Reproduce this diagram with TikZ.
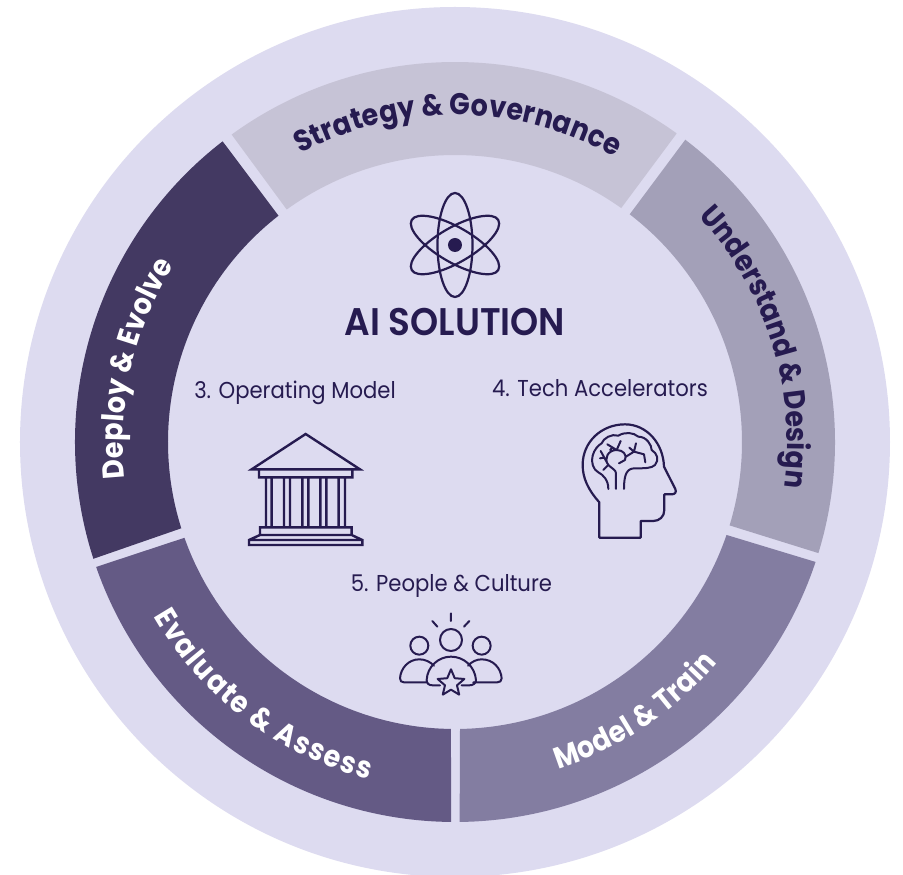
\documentclass[tikz,border=0pt]{standalone}
\usepackage{fontspec}
\setmainfont{Poppins}
\newfontfamily\segf[FakeStretch=0.9]{Poppins Bold}
\newfontfamily\labf[FakeStretch=0.92]{Poppins}
\newfontfamily\titf[FakeStretch=0.93]{Poppins SemiBold}
\definecolor{bgc}{HTML}{DDDBF0}
\definecolor{segA}{HTML}{C6C3D6}
\definecolor{segB}{HTML}{A3A0B8}
\definecolor{segC}{HTML}{837DA1}
\definecolor{segD}{HTML}{645A85}
\definecolor{segE}{HTML}{433962}
\definecolor{ink}{HTML}{261B50}
\makeatletter
\newcommand{\arcfont}{\segf\fontsize{30}{34}\pgfutil@selectfont}
\makeatother
\tikzset{
  x=1pt,y=1pt,
  icon/.style={draw=ink,line width=2.2pt,line join=round,line cap=round,fill=none},
  sublabel/.style={text=ink,inner sep=0pt,anchor=base,font=\labf\fontsize{23}{27}\selectfont},
  arcchar/.style={inner sep=0pt,anchor=base,font=\arcfont},
}
% outer from, outer to, inner from, inner to, colour
\newcommand{\segsector}[5]{%
  \fill[#5] (#1:380) arc[start angle=#1,end angle=#2,radius=380] -- (#4:287)
     arc[start angle=#4,end angle=#3,radius=287] -- cycle;}
\newlength\arcw
\newlength\arct
\newlength\arcp
% tracking, mid angle, radius, direction (1 clockwise, -1 counter-clockwise), colour, characters
\newcommand{\arctext}[6]{%
  \global\arct=0pt
  \foreach \ch in {#6}{%
    \settowidth\arcw{\arcfont\ch}%
    \global\advance\arct by\arcw
    \global\advance\arct by #1pt}%
  \global\arcp=0pt
  \foreach \ch in {#6}{%
    \settowidth\arcw{\arcfont\ch}%
    \pgfmathsetmacro\ang{#2+#4*(0.5*\arct-\arcp-0.5*\arcw)/#3*57.29578}%
    \pgfmathsetmacro\rot{\ang-#4*90}%
    \node[arcchar,text=#5,rotate=\rot] at (\ang:#3) {\ch};%
    \global\advance\arcp by\arcw
    \global\advance\arcp by #1pt}%
}
\begin{document}
\begin{tikzpicture}
\useasboundingbox (-455,-433) rectangle (448,442);
\fill[white] (-455,-433) rectangle (448,442);
\begin{scope}
\clip (-455,-433) rectangle (448,442);
\fill[bgc] (0,0) circle[radius=435];
\end{scope}
\segsector{54.3}{126}{54.6}{125.9}{segA}
\segsector{-17}{52.7}{-16.9}{52.5}{segB}
\segsector{-89.3}{-18.4}{-89}{-18.9}{segC}
\segsector{199.2}{269.4}{199.5}{269.2}{segD}
\segsector{127.7}{197.9}{127.95}{197.5}{segE}
\arctext{0.2}{89.4}{327}{1}{ink}{S,t,r,a,t,e,g,y,~,\&,~,G,o,v,e,r,n,a,n,c,e}
\arctext{0}{17.5}{332}{1}{ink}{U,n,d,e,r,s,t,a,n,d,~,\&,~,D,e,s,i,g,n}
\arctext{0.3}{303.7}{343}{-1}{white}{M,o,d,e,l,~,\&,~,T,r,a,i,n}
\arctext{1.6}{233}{348}{-1}{white}{E,v,a,l,u,a,t,e,~,\&,~,A,s,s,e,s,s}
\arctext{0.2}{167}{332}{1}{white}{D,e,p,l,o,y,~,\&,~,E,v,o,l,v,e}
\begin{scope}[shift={(-455,442)},yscale=-1]
\node[text=ink,inner sep=0pt,anchor=base,font=\titf\fontsize{38.5}{42}\selectfont] (title) at (455,336) {AI SOLUTION};
\node[sublabel] (l3) at (295,398.5) {3. Operating Model};
\node[sublabel] (l4) at (600,397) {4. Tech Accelerators};
\node[sublabel] (l5) at (451.5,592) {5. People \& Culture};
% atom
\draw[icon] (455,245) ellipse[x radius=17.5,y radius=52];
\draw[icon,rotate around={60:(455,245)}] (455,245) ellipse[x radius=17.5,y radius=50];
\draw[icon,rotate around={-60:(455,245)}] (455,245) ellipse[x radius=17.5,y radius=50];
\fill[ink] (455,245) circle[radius=7];
% temple
\begin{scope}[shift={(235,420)},x=0.3333pt,y=0.3333pt]
\draw[icon,line width=2.4pt,line cap=butt,line join=miter]
  (212,42) -- (375,148) -- (50,148) -- cycle
  (72,148) -- (72,172) -- (352,172) -- (352,148)
  (93,172) -- (93,322) (110,172) -- (110,322)
  (147,172) -- (147,322) (165,172) -- (165,322)
  (202,172) -- (202,322) (220,172) -- (220,322)
  (256,172) -- (256,322) (274,172) -- (274,322)
  (311,172) -- (311,322) (330,172) -- (330,322)
  (75,322) -- (350,322) -- (350,345) -- (75,345) -- cycle
  (75,345) -- (42,360) -- (42,375) -- (382,375) -- (382,360) -- (350,345)
  (42,360) -- (382,360);
\end{scope}
% head
\begin{scope}[shift={(570,415)},x=0.3333pt,y=0.3333pt]
\draw[icon]
  (88,368) -- (88,262) .. controls (55,225) and (38,190) .. (38,150)
  .. controls (38,80) and (95,28) .. (165,28)
  .. controls (230,28) and (280,85) .. (282,155)
  -- (316,222) .. controls (320,232) and (315,238) .. (305,238) -- (283,238)
  -- (283,285) .. controls (283,305) and (268,318) .. (250,318) -- (212,318) -- (212,368) -- cycle;
\draw[icon,line width=2pt]
  (115,222) .. controls (115,195) and (100,180) .. (85,172)
  .. controls (70,165) and (62,140) .. (68,122)
  .. controls (72,105) and (85,90) .. (95,85)
  .. controls (100,70) and (125,55) .. (145,62)
  .. controls (165,50) and (190,52) .. (205,65)
  .. controls (230,65) and (245,90) .. (245,105)
  .. controls (262,115) and (268,135) .. (255,150)
  .. controls (245,160) and (225,160) .. (195,160)
  .. controls (172,160) and (162,175) .. (162,222);
\draw[icon,line width=2pt]
  (138,222) -- (138,175) .. controls (138,165) and (125,160) .. (115,150)
  .. controls (100,130) and (115,105) .. (140,105)
  .. controls (160,105) and (172,120) .. (165,135) -- (147,145)
  (115,150) -- (100,165)
  (115,150) -- (92,108)
  (90,130) -- (102,128)
  (140,105) -- (152,78)
  (140,105) -- (112,88)
  (128,97) -- (120,105)
  (168,125) -- (192,110) -- (198,85)
  (192,110) -- (222,118) -- (226,142)
  (192,110) -- (178,98);
\end{scope}
% people
\begin{scope}[shift={(390,605)},x=0.3333pt,y=0.3333pt]
\draw[icon,line width=2pt]
  (183,25) -- (183,48) (127,48) -- (142,65) (238,48) -- (222,65)
  (183,105) circle[radius=33]
  (88,122) circle[radius=27]
  (275,122) circle[radius=27]
  (112,232) -- (42,232) .. controls (34,232) and (30,228) .. (30,220)
  .. controls (32,190) and (55,163) .. (88,163) .. controls (105,163) and (120,170) .. (132,182)
  (250,232) -- (322,232) .. controls (330,232) and (335,228) .. (335,220)
  .. controls (333,190) and (310,163) .. (275,163) .. controls (260,163) and (245,170) .. (234,182)
  (150,241) -- (128,241) .. controls (116,241) and (110,235) .. (110,225)
  .. controls (112,185) and (145,155) .. (183,155)
  .. controls (222,155) and (255,185) .. (258,225)
  .. controls (258,235) and (250,241) .. (238,241) -- (215,241)
  (183,193) -- (194.2,219.6) -- (223,222) -- (201,241) -- (207.7,269) -- (183,254)
  -- (158.3,269) -- (165,241) -- (143,222) -- (171.8,219.6) -- cycle;
\end{scope}
\end{scope}
\end{tikzpicture}
\end{document}
